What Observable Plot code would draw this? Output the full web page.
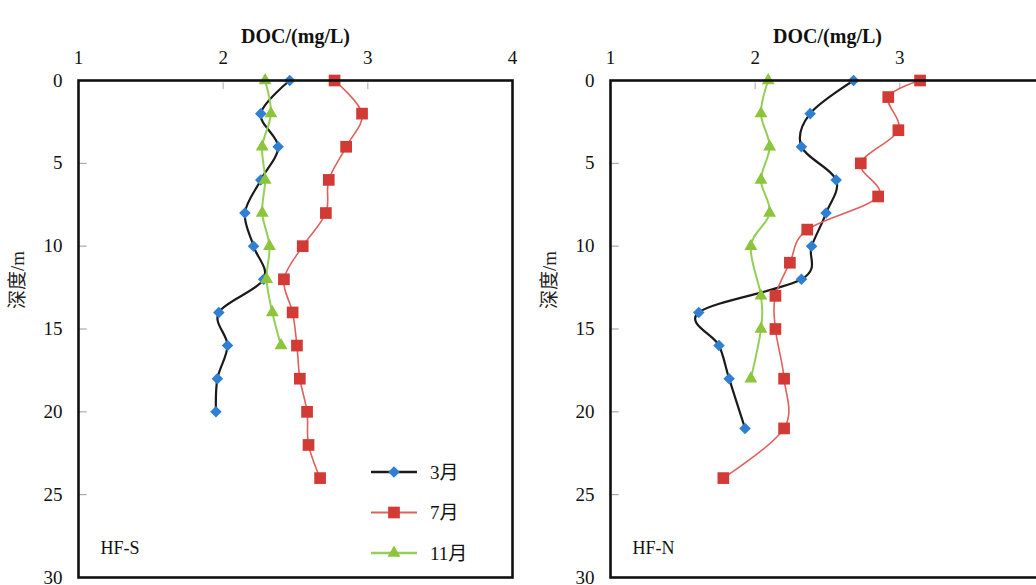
<!DOCTYPE html>
<html>
<head>
<meta charset="utf-8">
<script src="https://cdn.jsdelivr.net/npm/d3@7"></script>
<script src="https://cdn.jsdelivr.net/npm/@observablehq/plot@0.6"></script>
<style>
  html, body { margin: 0; padding: 0; background: #fff; }
  #wrap { position: relative; width: 1036px; height: 585px; overflow: hidden; background: #fff; }
  .panel { position: absolute; top: 0; width: 520px; height: 585px; }
  .panel svg { max-width: none !important; }
  #legend { position: absolute; left: 362px; top: 452px; }
</style>
</head>
<body>
<div id="wrap">
  <div id="left" class="panel" style="left:0px"></div>
  <div id="right" class="panel" style="left:532px"></div>
  <div id="legend"></div>
</div>
<script>
// ---- data ----
const months = ["3月", "7月", "11月"];
const xTicks = [1, 2, 3, 4];
const yTicks = [0, 5, 10, 15, 20, 25, 30];

// HF-S
const depthS_mar = [0, 2, 4, 6, 8, 10, 12, 14, 16, 18, 20];
const docS_mar   = [2.46, 2.26, 2.38, 2.26, 2.15, 2.21, 2.28, 1.97, 2.03, 1.96, 1.95];
const depthS_jul = [0, 2, 4, 6, 8, 10, 12, 14, 16, 18, 20, 22, 24];
const docS_jul   = [2.77, 2.96, 2.85, 2.73, 2.71, 2.55, 2.42, 2.48, 2.51, 2.53, 2.58, 2.59, 2.67];
const depthS_nov = [0, 2, 4, 6, 8, 10, 12, 14, 16];
const docS_nov   = [2.29, 2.33, 2.27, 2.29, 2.27, 2.32, 2.30, 2.34, 2.40];

// HF-N
const depthN_mar = [0, 2, 4, 6, 8, 10, 12, 14, 16, 18, 21];
const docN_mar   = [2.68, 2.38, 2.32, 2.56, 2.49, 2.39, 2.32, 1.61, 1.75, 1.82, 1.93];
const depthN_jul = [0, 1, 3, 5, 7, 9, 11, 13, 15, 18, 21, 24];
const docN_jul   = [3.14, 2.92, 2.99, 2.73, 2.85, 2.36, 2.24, 2.14, 2.14, 2.20, 2.20, 1.78];
const depthN_nov = [0, 2, 4, 6, 8, 10, 13, 15, 18];
const docN_nov   = [2.09, 2.04, 2.10, 2.04, 2.10, 1.97, 2.04, 2.04, 1.97];

// ---- styles ----
const FONT = "Liberation Serif, Noto Sans CJK SC, serif";
const style = {
  "3月":  {line: "#1a1a1a", lineWidth: 2.2, fill: "#2f7fd3", symbol: "diamond2", r: 5.2},
  "7月":  {line: "#e0605c", lineWidth: 1.6, fill: "#d23a36", symbol: "square",   r: 6.6},
  "11月": {line: "#93cf55", lineWidth: 2,   fill: "#8cc43a", symbol: "triangle", r: 4.8}
};

function toRows(depths, docs) { return depths.map((d, i) => ({depth: d, doc: docs[i]})); }

function panel(series, name) {
  const marks = [
    Plot.ruleX(xTicks.slice(1, -1), {x: d => d, y1: 0.15, y2: 0.55, stroke: "#aaa", strokeWidth: 1}),
    Plot.ruleY(yTicks.slice(1, -1), {y: d => d, x1: 1, x2: 1.06, stroke: "#999", strokeWidth: 1}),
    Plot.axisX(xTicks, {anchor: "top", tickSize: 0, tickPadding: 17, fontSize: 19, fontFamily: FONT, tickFormat: d => String(d), label: null, fill: "#111"}),
    Plot.axisY(yTicks, {anchor: "left", tickSize: 0, tickPadding: 16, fontSize: 19, fontFamily: FONT, tickFormat: d => String(d), label: null, fill: "#111"}),
    Plot.text(["DOC/(mg/L)"], {frameAnchor: "top", dy: -52, fontSize: 20, fontWeight: "bold", fontFamily: FONT, fill: "#111"}),
    Plot.text(["深度/m"], {frameAnchor: "left", dx: -61, dy: -20, rotate: -90, fontSize: 19, fontFamily: FONT, fill: "#222"}),
    Plot.text([name], {frameAnchor: "bottom-left", textAnchor: "start", dx: 22, dy: -24, fontSize: 18, fontFamily: FONT, fill: "#111"})
  ];
  for (const [m, rows] of series) {
    const s = style[m];
    marks.push(Plot.line(rows, {x: "doc", y: "depth", curve: "cardinal", stroke: s.line, strokeWidth: s.lineWidth}));
  }
  for (const [m, rows] of series) {
    const s = style[m];
    marks.push(Plot.dot(rows, {x: "doc", y: "depth", symbol: s.symbol, r: s.r, fill: s.fill, stroke: "none"}));
  }
  marks.push(Plot.frame({stroke: "#111", strokeWidth: 2.6}));
  return Plot.plot({
    width: 520,
    height: 585,
    marginLeft: 78,
    marginRight: 8,
    marginTop: 80,
    marginBottom: 8,
    style: {fontFamily: FONT, color: "#111", background: "transparent", overflow: "visible", maxWidth: "none"},
    x: {domain: [1, 4]},
    y: {domain: [0, 30], reverse: true},
    marks
  });
}

const left = panel([
  ["3月", toRows(depthS_mar, docS_mar)],
  ["7月", toRows(depthS_jul, docS_jul)],
  ["11月", toRows(depthS_nov, docS_nov)]
], "HF-S");
document.getElementById("left").appendChild(left);

const right = panel([
  ["3月", toRows(depthN_mar, docN_mar)],
  ["7月", toRows(depthN_jul, docN_jul)],
  ["11月", toRows(depthN_nov, docN_nov)]
], "HF-N");
document.getElementById("right").appendChild(right);

// ---- legend (inside left panel) ----
const symMap = {diamond2: d3.symbolDiamond2, square: d3.symbolSquare, triangle: d3.symbolTriangle};
const lg = d3.create("svg").attr("width", 130).attr("height", 120).style("overflow", "visible");
months.forEach((m, i) => {
  const s = style[m];
  const y = 20 + i * 40.5;
  const g = lg.append("g").attr("transform", `translate(0,${y})`);
  g.append("line").attr("x1", 9).attr("x2", 55).attr("y1", 0).attr("y2", 0)
    .attr("stroke", s.line).attr("stroke-width", s.lineWidth + 0.4);
  g.append("path").attr("transform", "translate(32,0)")
    .attr("d", d3.symbol(symMap[s.symbol], Math.PI * s.r * s.r)())
    .attr("fill", s.fill);
  g.append("text").attr("x", 68).attr("y", 0).attr("dy", "0.35em")
    .attr("font-family", FONT)
    .attr("font-size", 19).attr("fill", "#111").text(m);
});
document.getElementById("legend").appendChild(lg.node());
</script>
</body>
</html>
